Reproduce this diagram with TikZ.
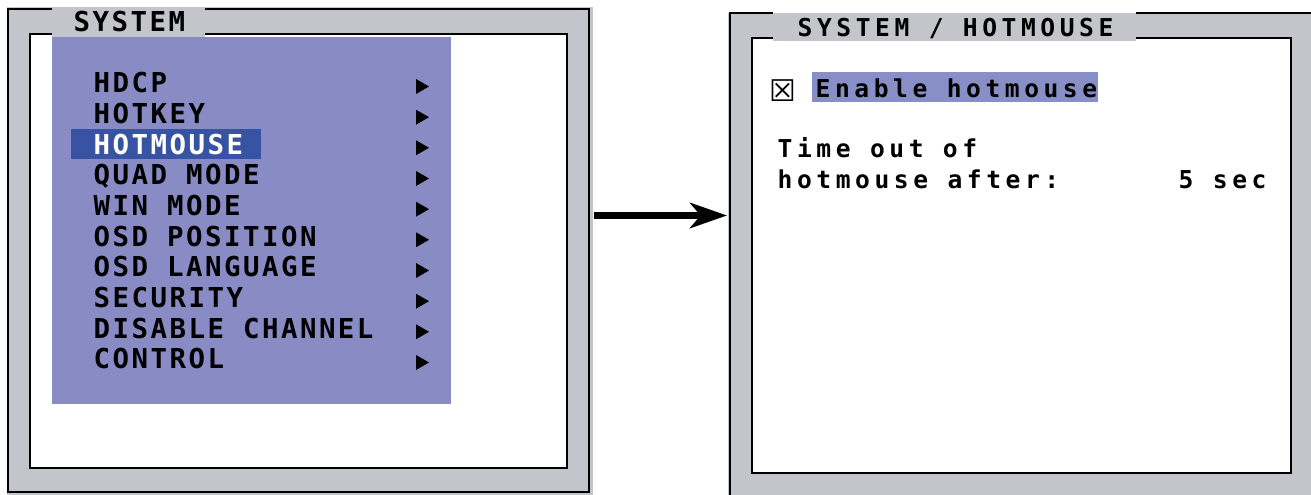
\documentclass[tikz,border=0pt]{standalone}
\usepackage{fontspec}
\usetikzlibrary{arrows.meta}
\newfontfamily\osdfont[LetterSpace=9]{DejaVu Sans Mono}
\newfontfamily\osdfontsub[LetterSpace=18.5]{DejaVu Sans Mono}
\newfontfamily\symfont{DejaVu Sans}
\definecolor{panelgray}{RGB}{196,197,202}
\definecolor{menublue}{RGB}{137,139,196}
\definecolor{selblue}{RGB}{56,82,164}
\definecolor{optblue}{RGB}{136,143,199}

\begin{document}
\begin{tikzpicture}[x=0.01cm, y=-0.01cm,
  frame/.style={line width=0.6pt},
  menuitem/.style={anchor=base west, inner sep=0pt, font={\osdfont\bfseries\fontsize{7.8pt}{8pt}\selectfont}},
  subitem/.style={anchor=base west, inner sep=0pt, font={\osdfontsub\bfseries\fontsize{7pt}{8pt}\selectfont}}]

\useasboundingbox (0,0) rectangle (1311,495);

% left panel: SYSTEM
\draw (6,6) node (system) [anchor=north west, inner sep=0, fill=panelgray, minimum width=5.86cm, minimum height=4.89cm] {};
\fill [white] (30,34) rectangle (567,468);
\fill [panelgray] (52,33) rectangle (205,37);
\fill [menublue] (52,37) rectangle (451,404);
\draw [frame] (52,9) -- (8,9) -- (8,492) -- (589,492) -- (589,9) -- (205,9);
\draw [frame] (52,34) -- (30,34) -- (30,468) -- (567,468) -- (567,34) -- (205,34);
\draw (73,32) node (systitle) [menuitem] {SYSTEM};

\fill [selblue] (71,129) rectangle (261,159);

\draw (93,93) node (hdcp) [menuitem] {HDCP};
\fill (416,79) -- (429,86.5) -- (416,94) -- cycle;
\draw (93,123.7) node (hotkey) [menuitem] {HOTKEY};
\fill (416,109.7) -- (429,117.2) -- (416,124.7) -- cycle;
\draw (93,154.3) node (hotmouse) [menuitem, text=white] {HOTMOUSE};
\fill (416,140.3) -- (429,147.8) -- (416,155.3) -- cycle;
\draw (93,185) node (quad) [menuitem] {QUAD MODE};
\fill (416,171) -- (429,178.5) -- (416,186) -- cycle;
\draw (93,215.7) node (win) [menuitem] {WIN MODE};
\fill (416,201.7) -- (429,209.2) -- (416,216.7) -- cycle;
\draw (93,246.3) node (osdpos) [menuitem] {OSD POSITION};
\fill (416,232.3) -- (429,239.8) -- (416,247.3) -- cycle;
\draw (93,277) node (osdlang) [menuitem] {OSD LANGUAGE};
\fill (416,263) -- (429,270.5) -- (416,278) -- cycle;
\draw (93,307.7) node (security) [menuitem] {SECURITY};
\fill (416,293.7) -- (429,301.2) -- (416,308.7) -- cycle;
\draw (93,338.3) node (disable) [menuitem] {DISABLE CHANNEL};
\fill (416,324.3) -- (429,331.8) -- (416,339.3) -- cycle;
\draw (93,369) node (control) [menuitem] {CONTROL};
\fill (416,355) -- (429,362.5) -- (416,370) -- cycle;

% right panel: SYSTEM / HOTMOUSE
\draw (727,12) node (hotpanel) [anchor=north west, inner sep=0, fill=panelgray, minimum width=5.84cm, minimum height=4.83cm] {};
\fill [white] (752,38) rectangle (1291,473);
\fill [panelgray] (773,37) rectangle (1136,41);
\draw [frame] (773,13) -- (730,13) -- (730,500);
\draw [frame] (1136,13) -- (1315,13);
\draw [frame] (773,38) -- (752,38) -- (752,473) -- (1291,473) -- (1291,38) -- (1136,38);
\draw (797,37) node (hottitle) [subitem] {SYSTEM / HOTMOUSE};

\fill [optblue] (812,72) rectangle (1098,102);
\draw (782.5,90.5) node (check) [inner sep=0, font={\symfont\fontsize{8.5pt}{8.5pt}\selectfont}] {☒};
\draw (815,98) node (enable) [subitem] {Enable hotmouse};
\draw (777,158) node (timeout) [subitem] {Time out of};
\draw (777,189) node (after) [subitem] {hotmouse after:};
\draw (1178,189) node (secs) [subitem] {5 sec};

% arrow between the panels
\coordinate (arrowy) at (0,215.5);
\draw [line width=2pt, -{Stealth[length=10.5pt, width=7.2pt, inset=3pt]}] (system.east |- arrowy) -- (hotpanel.west |- arrowy);

\end{tikzpicture}
\end{document}
